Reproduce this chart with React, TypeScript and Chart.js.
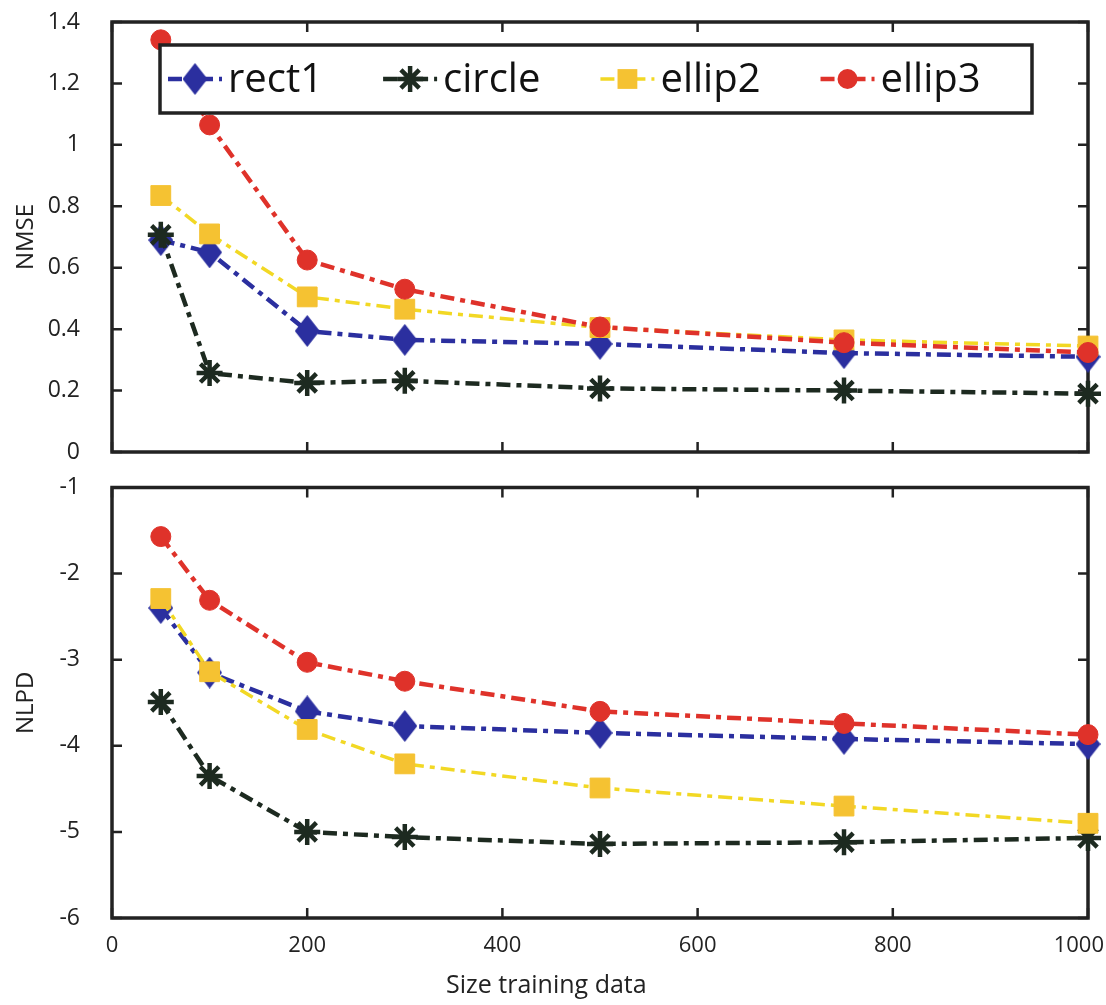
import React, { useEffect, useRef } from "react";
import { Chart, registerables } from "chart.js";
Chart.register(...registerables);

// ---------- data ----------
const sizes = [50, 100, 200, 300, 500, 750, 1000];
const seriesNames = ["rect1", "circle", "ellip2", "ellip3"];

const nmseRect1 = [0.69, 0.65, 0.394, 0.365, 0.352, 0.322, 0.31];
const nmseCircle = [0.707, 0.257, 0.225, 0.232, 0.207, 0.2, 0.19];
const nmseEllip2 = [0.835, 0.71, 0.505, 0.465, 0.405, 0.365, 0.345];
const nmseEllip3 = [1.342, 1.065, 0.625, 0.53, 0.407, 0.356, 0.324];

const nlpdRect1 = [-2.4, -3.15, -3.6, -3.77, -3.85, -3.92, -3.98];
const nlpdCircle = [-3.49, -4.35, -5.0, -5.06, -5.14, -5.12, -5.07];
const nlpdEllip2 = [-2.29, -3.14, -3.81, -4.21, -4.49, -4.7, -4.9];
const nlpdEllip3 = [-1.57, -2.31, -3.03, -3.25, -3.6, -3.74, -3.87];

const xMin = 0, xMax = 1000, xStep = 200;
const nmseMin = 0, nmseMax = 1.4, nmseStep = 0.2;
const nlpdMin = -6, nlpdMax = -1, nlpdStep = 1;
const xTitle = "Size training data";

// ---------- styles ----------
const FONT = "'Open Sans', 'Noto Sans', sans-serif";
const TEXT = "#222";
const DASH = [14, 6, 5, 6];
const colors = {
  rect1: "#2b2f9f",
  circle: "#1d2a20",
  ellip2Line: "#f2d824",
  ellip2Mark: "#f5c232",
  ellip3: "#df322a",
};

function makeDiamond(w: number, h: number, color: string) {
  const c = document.createElement("canvas");
  c.width = w;
  c.height = h;
  const g = c.getContext("2d")!;
  g.fillStyle = color;
  g.beginPath();
  g.moveTo(w / 2, 0);
  g.lineTo(w, h / 2);
  g.lineTo(w / 2, h);
  g.lineTo(0, h / 2);
  g.closePath();
  g.fill();
  return c;
}

type Marker = { kind: string; color: string; radius: number; lineColor: string; lineWidth: number; img?: HTMLCanvasElement };

function seriesStyles(): Marker[] {
  return [
    { kind: "diamond", color: colors.rect1, radius: 14, lineColor: colors.rect1, lineWidth: 4.5, img: makeDiamond(25, 32, colors.rect1) },
    { kind: "star", color: colors.circle, radius: 13, lineColor: colors.circle, lineWidth: 4.5 },
    { kind: "rect", color: colors.ellip2Mark, radius: 14, lineColor: colors.ellip2Line, lineWidth: 3.5 },
    { kind: "circle", color: colors.ellip3, radius: 10, lineColor: colors.ellip3, lineWidth: 4.5 },
  ];
}

function drawMarker(ctx: CanvasRenderingContext2D, m: Marker, x: number, y: number) {
  ctx.save();
  ctx.fillStyle = m.color;
  ctx.strokeStyle = m.color;
  ctx.setLineDash([]);
  if (m.kind === "diamond" && m.img) {
    ctx.drawImage(m.img, x - m.img.width / 2, y - m.img.height / 2);
  } else if (m.kind === "star") {
    ctx.lineWidth = 4.5;
    const r = m.radius;
    const d = r * Math.SQRT1_2;
    ctx.beginPath();
    ctx.moveTo(x - r, y); ctx.lineTo(x + r, y);
    ctx.moveTo(x, y - r); ctx.lineTo(x, y + r);
    ctx.moveTo(x - d, y - d); ctx.lineTo(x + d, y + d);
    ctx.moveTo(x - d, y + d); ctx.lineTo(x + d, y - d);
    ctx.stroke();
  } else if (m.kind === "rect") {
    const s = m.radius * Math.SQRT1_2;
    ctx.fillRect(x - s, y - s, 2 * s, 2 * s);
  } else {
    ctx.beginPath();
    ctx.arc(x, y, m.radius, 0, Math.PI * 2);
    ctx.fill();
  }
  ctx.restore();
}

function buildDatasets(values: number[][], styles: Marker[]) {
  return values.map((vals, i) => {
    const m = styles[i];
    const ps: any = m.kind === "diamond" ? m.img : m.kind === "star" ? "star" : m.kind;
    return {
      label: seriesNames[i],
      data: sizes.map((x, j) => ({ x, y: vals[j] })),
      borderColor: m.lineColor,
      borderWidth: m.lineWidth,
      borderDash: DASH,
      backgroundColor: m.color,
      pointStyle: ps,
      pointRadius: m.radius,
      pointBorderColor: m.color,
      pointBackgroundColor: m.color,
      pointBorderWidth: m.kind === "star" ? 4.5 : 1,
      tension: 0,
      fill: false,
      clip: false as any,
      order: 4 - i,
    };
  });
}

const boxPlugin = {
  id: "matBox",
  beforeDatasetsDraw(chart: any) {
    const { ctx, chartArea: a, scales } = chart;
    ctx.save();
    ctx.strokeStyle = TEXT;
    ctx.lineWidth = 2.5;
    ctx.setLineDash([]);
    const tl = 10;
    ctx.beginPath();
    scales.x.ticks.forEach((t: any) => {
      const px = scales.x.getPixelForValue(t.value);
      ctx.moveTo(px, a.bottom); ctx.lineTo(px, a.bottom - tl);
      ctx.moveTo(px, a.top); ctx.lineTo(px, a.top + tl);
    });
    scales.y.ticks.forEach((t: any) => {
      const py = scales.y.getPixelForValue(t.value);
      ctx.moveTo(a.left, py); ctx.lineTo(a.left + tl, py);
      ctx.moveTo(a.right, py); ctx.lineTo(a.right - tl, py);
    });
    ctx.stroke();
    ctx.lineWidth = 3.5;
    ctx.strokeRect(a.left, a.top, a.right - a.left, a.bottom - a.top);
    ctx.restore();
  },
};

function legendPlugin(styles: Marker[]) {
  return {
    id: "matLegend",
    afterDraw(chart: any) {
      const { ctx, chartArea: a } = chart;
      const left = a.left + 48, top = a.top + 23, w = 872, h = 68;
      ctx.save();
      ctx.fillStyle = "#fff";
      ctx.fillRect(left, top, w, h);
      ctx.strokeStyle = TEXT;
      ctx.lineWidth = 3.5;
      ctx.setLineDash([]);
      ctx.strokeRect(left, top, w, h);
      const cy = top + h / 2;
      ctx.font = `40px ${FONT}`;
      ctx.textBaseline = "middle";
      ctx.textAlign = "left";
      let x = left + 8;
      seriesNames.forEach((name, i) => {
        const m = styles[i];
        ctx.strokeStyle = m.lineColor;
        ctx.lineWidth = m.lineWidth;
        ctx.setLineDash(DASH);
        ctx.beginPath();
        ctx.moveTo(x, cy);
        ctx.lineTo(x + 54, cy);
        ctx.stroke();
        drawMarker(ctx, m, x + 27, cy);
        ctx.fillStyle = "#111";
        ctx.fillText(name, x + 60, cy + 2);
        x = x + 60 + ctx.measureText(name).width + 60;
      });
      ctx.restore();
    },
  };
}

const xLabelPlugin = {
  id: "xLabels",
  afterDraw(chart: any) {
    const { ctx, chartArea: a, scales, width } = chart;
    ctx.save();
    ctx.fillStyle = TEXT;
    ctx.font = `22px ${FONT}`;
    ctx.textBaseline = "middle";
    ctx.textAlign = "center";
    scales.x.ticks.forEach((t: any) => {
      const label = String(t.value);
      const tw = ctx.measureText(label).width;
      let px = scales.x.getPixelForValue(t.value);
      px = Math.min(px, width - tw / 2 - 2);
      ctx.fillText(label, px, a.bottom + 28);
    });
    ctx.font = `25px ${FONT}`;
    ctx.fillText(xTitle, a.left + (a.right - a.left) * 0.445, a.bottom + 68);
    ctx.restore();
  },
};

function makeOptions(yMin: number, yMax: number, yStep: number, yTitle: string, padTop: number, xHeight: number) {
  return {
    animation: false as const,
    responsive: false,
    maintainAspectRatio: false,
    events: [] as any,
    layout: { padding: { top: padTop, right: 18, left: 0, bottom: 0 } },
    plugins: { legend: { display: false }, tooltip: { enabled: false }, title: { display: false } },
    scales: {
      x: {
        type: "linear" as const,
        min: xMin,
        max: xMax,
        ticks: { stepSize: xStep, display: false },
        grid: { display: false },
        border: { display: false },
        afterFit: (s: any) => { s.height = xHeight; s.paddingLeft = 0; s.paddingRight = 0; },
      },
      y: {
        type: "linear" as const,
        min: yMin,
        max: yMax,
        ticks: {
          stepSize: yStep,
          padding: 24,
          color: TEXT,
          font: { family: FONT, size: 23 },
          callback: (v: any) => String(Number(Number(v).toFixed(2))),
        },
        grid: { display: false },
        border: { display: false },
        title: { display: true, text: yTitle, color: TEXT, font: { family: FONT, size: 24 }, padding: { top: 12, bottom: 0 } },
        afterFit: (s: any) => { s.width = 112; s.paddingTop = 0; s.paddingBottom = 0; },
      },
    },
  };
}

export default function App() {
  const topRef = useRef<HTMLCanvasElement>(null);
  const botRef = useRef<HTMLCanvasElement>(null);

  useEffect(() => {
    const styles = seriesStyles();
    const top = new Chart(topRef.current!, {
      type: "line",
      data: { datasets: buildDatasets([nmseRect1, nmseCircle, nmseEllip2, nmseEllip3], styles) as any },
      options: makeOptions(nmseMin, nmseMax, nmseStep, "NMSE", 22, 18) as any,
      plugins: [boxPlugin, legendPlugin(styles)],
    });
    const bot = new Chart(botRef.current!, {
      type: "line",
      data: { datasets: buildDatasets([nlpdRect1, nlpdCircle, nlpdEllip2, nlpdEllip3], styles) as any },
      options: makeOptions(nlpdMin, nlpdMax, nlpdStep, "NLPD", 17, 87) as any,
      plugins: [boxPlugin, xLabelPlugin],
    });
    return () => {
      top.destroy();
      bot.destroy();
    };
  }, []);

  return (
    <div style={{ position: "absolute", left: 0, top: 0, width: 1106, height: 1005, background: "#fff", overflow: "hidden" }}>
      <canvas ref={topRef} width={1106} height={470} style={{ position: "absolute", left: 0, top: 0, width: 1106, height: 470 }} />
      <canvas ref={botRef} width={1106} height={535} style={{ position: "absolute", left: 0, top: 470, width: 1106, height: 535 }} />
    </div>
  );
}
